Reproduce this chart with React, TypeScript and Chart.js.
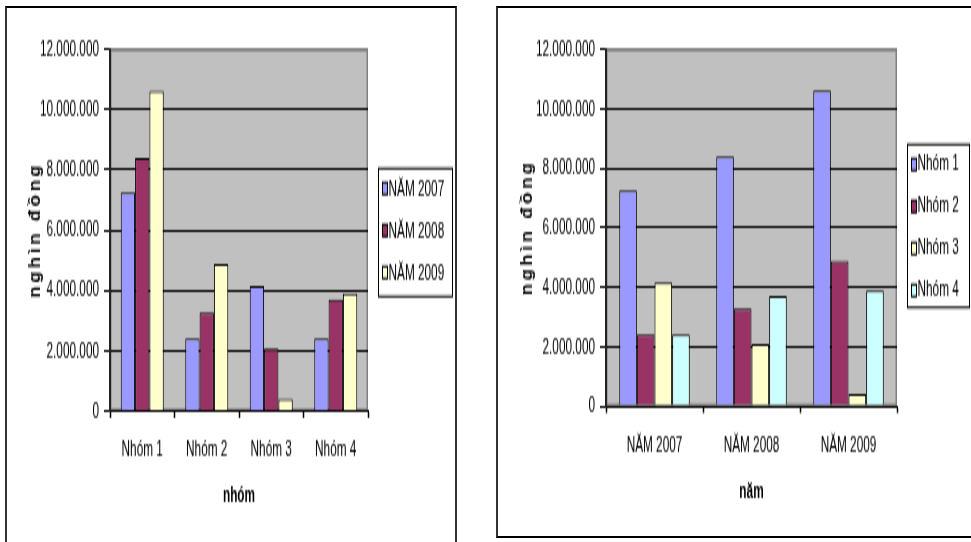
import React, { useEffect, useRef } from "react";
import { Chart, registerables } from "chart.js";

Chart.register(...registerables);

// ---------- data ----------
const groups = ["Nhóm 1", "Nhóm 2", "Nhóm 3", "Nhóm 4"];
const years = ["NĂM 2007", "NĂM 2008", "NĂM 2009"];
const values2007 = [7250000, 2400000, 4150000, 2400000];
const values2008 = [8380000, 3270000, 2080000, 3690000];
const values2009 = [10600000, 4880000, 400000, 3890000];
const yMin = 0;
const yMax = 12000000;
const yStep = 2000000;
const yAxisTitle = "nghìn đồng";
const leftXTitle = "nhóm";
const rightXTitle = "năm";
const yearColors = ["#9999FF", "#993366", "#FFFFCC"];
const groupColors = ["#9999FF", "#993366", "#FFFFCC", "#CCFFFF"];

const FONT = "'Liberation Sans', Arial, sans-serif";
const FS = 11.8;

const fmt = (v: number) => String(Math.round(v)).replace(/\B(?=(\d{3})+(?!\d))/g, ".");

const decorPlugin = {
  id: "decor",
  beforeDraw(chart: any) {
    const { ctx, chartArea: a } = chart;
    ctx.save();
    ctx.fillStyle = "#C0C0C0";
    ctx.fillRect(a.left, a.top, a.right - a.left, a.bottom - a.top);
    ctx.strokeStyle = "#808080";
    ctx.lineWidth = 1.5;
    ctx.strokeRect(a.left + 0.75, a.top + 0.5, a.right - a.left - 1.5, a.bottom - a.top - 1);
    ctx.restore();
  },
  afterDraw(chart: any, _args: any, opts: any) {
    const { ctx, chartArea: a } = chart;
    // legend
    const lg = opts.legend;
    const bx = Math.round(a.right + lg.dx) + 0.5;
    const by = Math.round(lg.top) + 0.25;
    ctx.save();
    ctx.fillStyle = "#FFFFFF";
    ctx.fillRect(bx, by, lg.w, lg.h);
    ctx.strokeStyle = "#000";
    ctx.lineWidth = 1;
    ctx.strokeRect(bx, by, lg.w, lg.h);
    ctx.font = `${lg.fontSize}px ${FONT}`;
    ctx.textBaseline = "middle";
    ctx.textAlign = "left";
    chart.data.datasets.forEach((ds: any, i: number) => {
      const cy = lg.first + i * lg.step;
      const mx = Math.round(bx + lg.markerDx) + 0.5;
      const my = Math.round(cy - lg.markerH / 2) + 0.25;
      ctx.fillStyle = ds.backgroundColor;
      ctx.fillRect(mx, my, lg.markerW, lg.markerH);
      ctx.lineWidth = 1;
      ctx.strokeStyle = "#000";
      ctx.strokeRect(mx, my, lg.markerW, lg.markerH);
      ctx.fillStyle = "#000";
      ctx.fillText(ds.label, bx + lg.textDx, cy + 0.5);
    });
    ctx.restore();
    // y axis title, rotated, spaced and fitted to a length
    const yt = opts.yTitle;
    ctx.save();
    ctx.translate(yt.x, (a.top + a.bottom) / 2);
    ctx.rotate(-Math.PI / 2);
    ctx.font = `bold ${yt.fontSize}px ${FONT}`;
    try {
      (ctx as any).letterSpacing = `${yt.spacing}px`;
    } catch (e) {}
    const w = ctx.measureText(yt.text).width;
    const k = yt.length / w;
    ctx.scale(k, 1);
    ctx.textAlign = "center";
    ctx.textBaseline = "middle";
    ctx.fillStyle = "#000";
    ctx.fillText(yt.text, 0, 0);
    ctx.restore();
  },
};

type Geom = {
  w: number;
  h: number;
  plotLeft: number;
  plotTop: number;
  plotRight: number;
  plotBottom: number;
  catPct: number;
  xTickPad: number;
  xTitlePad: number;
  legend: any;
  yTitleX: number;
};

function BarChart(props: {
  labels: string[];
  series: { label: string; data: number[]; color: string }[];
  xTitle: string;
  geom: Geom;
  style: React.CSSProperties;
}) {
  const ref = useRef<HTMLCanvasElement | null>(null);
  const { labels, series, xTitle, geom, style } = props;
  useEffect(() => {
    if (!ref.current) return;
    const chart = new Chart(ref.current, {
      type: "bar",
      data: {
        labels,
        datasets: series.map((s) => ({
          label: s.label,
          data: s.data,
          backgroundColor: s.color,
          borderColor: "#000",
          borderWidth: 1,
          categoryPercentage: geom.catPct,
          barPercentage: 1,
        })),
      },
      options: {
        responsive: false,
        animation: false,
        devicePixelRatio: 1,
        layout: {
          padding: { left: 0, top: geom.plotTop, right: geom.w - geom.plotRight, bottom: 0 },
        },
        plugins: {
          legend: { display: false },
          tooltip: { enabled: false },
          decor: {
            legend: geom.legend,
            yTitle: { x: geom.yTitleX, text: yAxisTitle, fontSize: 17, spacing: 3, length: 68 },
          },
        } as any,
        scales: {
          x: {
            offset: true,
            grid: {
              display: true,
              offset: true,
              drawOnChartArea: false,
              drawTicks: true,
              tickLength: 3.5,
              tickColor: "#000",
              tickWidth: 1.5,
            },
            border: { display: true, color: "#000", width: 1 },
            ticks: {
              color: "#000",
              font: { family: FONT, size: FS },
              padding: geom.xTickPad,
              maxRotation: 0,
              autoSkip: false,
            },
            title: {
              display: true,
              text: xTitle,
              color: "#000",
              font: { family: FONT, size: FS, weight: "bold" },
              padding: { top: 0, bottom: geom.xTitlePad },
            },
            afterFit: (scale: any) => {
              scale.height = geom.h - geom.plotBottom;
            },
          },
          y: {
            min: yMin,
            max: yMax,
            grid: {
              color: (c: any) => (c.tick && c.tick.value === yMax ? "#808080" : "#000"),
              tickColor: "#000",
              tickLength: 6,
              drawTicks: true,
              lineWidth: 1,
            },
            border: { display: true, color: "#222", width: 2 },
            ticks: {
              stepSize: yStep,
              color: "#000",
              font: { family: FONT, size: FS },
              padding: 5,
              callback: (v: any) => fmt(Number(v)),
            },
            afterFit: (scale: any) => {
              scale.width = geom.plotLeft;
            },
          },
        },
      } as any,
      plugins: [decorPlugin as any],
    });
    return () => chart.destroy();
  }, []);
  return <canvas ref={ref} width={geom.w} height={geom.h} style={style} />;
}

// backing-store geometry (the canvases are stretched 2x vertically)
const leftGeom: Geom = {
  w: 448,
  h: 267,
  plotLeft: 103,
  plotTop: 20.5,
  plotRight: 361,
  plotBottom: 201.5,
  catPct: 3 / 4.5,
  xTickPad: 9,
  xTitlePad: 16.5,
  legend: {
    dx: 10,
    w: 74,
    top: 79.5,
    h: 64,
    first: 90,
    step: 21,
    markerDx: 3,
    markerW: 5,
    markerH: 6,
    textDx: 10,
    fontSize: FS,
  },
  yTitleX: 28,
};

const rightGeom: Geom = {
  w: 473,
  h: 264,
  plotLeft: 108,
  plotTop: 20.5,
  plotRight: 399,
  plotBottom: 199,
  catPct: 4 / 5.5,
  xTickPad: 9.5,
  xTitlePad: 15.5,
  legend: {
    dx: 10,
    w: 62,
    top: 67.5,
    h: 81.5,
    first: 77.5,
    step: 21,
    markerDx: 3,
    markerW: 5,
    markerH: 6,
    textDx: 10,
    fontSize: FS,
  },
  yTitleX: 29,
};

export default function App() {
  const yearSeries = [values2007, values2008, values2009];
  const leftSeries = years.map((y, i) => ({ label: y, data: yearSeries[i], color: yearColors[i] }));
  const rightSeries = groups.map((g, gi) => ({
    label: g,
    data: yearSeries.map((arr) => arr[gi]),
    color: groupColors[gi],
  }));
  return (
    <div
      style={{
        position: "absolute",
        left: 0,
        top: 0,
        width: 971,
        height: 542,
        overflow: "hidden",
        background: "#fff",
      }}
    >
      <div
        style={{
          position: "absolute",
          left: 5,
          top: 6,
          width: 452,
          height: 580,
          boxSizing: "border-box",
          borderLeft: "2px solid #333",
          borderRight: "2px solid #333",
          borderTop: "2px solid #000",
        }}
      />
      <div
        style={{
          position: "absolute",
          left: 496,
          top: 6,
          width: 500,
          height: 532,
          boxSizing: "border-box",
          borderLeft: "2px solid #333",
          borderTop: "2px solid #000",
          borderBottom: "2px solid #000",
        }}
      />
      <BarChart
        labels={groups}
        series={leftSeries}
        xTitle={leftXTitle}
        geom={leftGeom}
        style={{ position: "absolute", left: 7, top: 8, width: 448, height: 534 }}
      />
      <BarChart
        labels={years}
        series={rightSeries}
        xTitle={rightXTitle}
        geom={rightGeom}
        style={{ position: "absolute", left: 498, top: 8, width: 473, height: 528 }}
      />
    </div>
  );
}
